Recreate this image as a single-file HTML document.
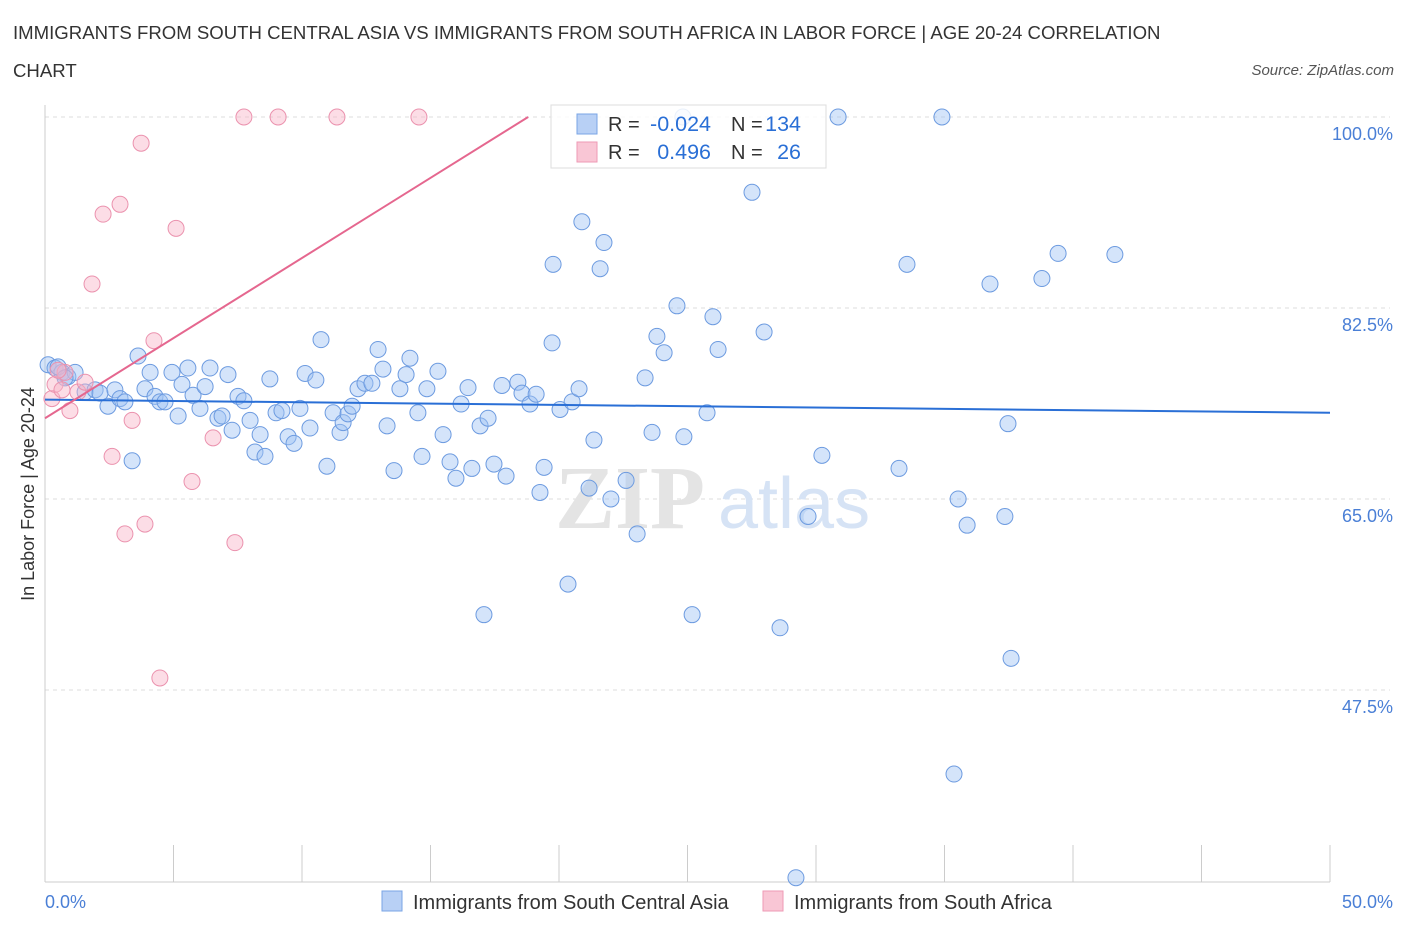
<!DOCTYPE html>
<html><head><meta charset="utf-8"><style>
body{margin:0;background:#fff;font-family:"Liberation Sans",sans-serif;}
#wrap{position:relative;width:1406px;height:930px;overflow:hidden;}
.t{position:absolute;color:#333;}
</style></head><body>
<div id="wrap">
<div class="t" style="left:13px;top:14px;font-size:18.6px;line-height:38px;width:1175px;color:#333">IMMIGRANTS FROM SOUTH CENTRAL ASIA VS IMMIGRANTS FROM SOUTH AFRICA IN LABOR FORCE | AGE 20-24 CORRELATION CHART</div>
<div class="t" style="right:12px;top:62px;font-size:15px;font-style:italic;color:#555">Source: ZipAtlas.com</div>
<svg id="svg" width="1406" height="930" style="position:absolute;left:0;top:0"></svg>
</div>
<script>
const blueX=[0.12,0.39,0.66,0.89,1.17,0.51,0.78,1.56,1.95,2.14,2.72,2.45,2.92,3.11,3.39,3.62,3.89,4.09,4.28,4.47,4.67,4.94,5.18,5.33,5.56,5.76,6.03,6.23,6.42,6.73,6.89,7.12,7.28,7.51,7.74,7.98,8.17,8.37,8.56,8.75,8.99,9.22,9.46,9.69,9.92,10.12,10.31,10.54,10.74,10.97,11.21,11.48,11.60,11.79,11.95,12.18,12.45,12.72,12.96,13.15,13.31,13.58,13.81,14.05,14.20,14.51,14.67,14.86,15.29,15.49,15.76,15.99,16.19,16.46,16.61,16.93,17.08,17.24,17.47,17.78,17.94,18.40,18.56,18.87,19.11,19.42,19.26,19.73,19.77,20.04,20.35,20.51,20.78,20.89,21.17,21.36,21.60,21.75,22.02,22.61,23.04,23.35,23.62,23.81,24.09,24.59,24.86,25.18,25.76,25.99,26.19,27.51,27.98,28.60,29.69,30.23,30.86,33.23,33.54,34.90,35.37,35.53,35.88,36.77,37.35,37.47,37.59,38.79,39.42,41.63,29.22,24.82];
const blueY=[77.3,77.0,76.6,76.2,76.6,77.1,76.1,74.8,75.0,74.7,75.0,73.5,74.2,73.9,68.5,78.1,75.1,76.6,74.4,73.9,73.9,76.6,72.6,75.5,77.0,74.5,73.3,75.3,77.0,72.4,72.6,76.4,71.3,74.4,74.0,72.2,69.3,70.9,68.9,76.0,72.9,73.1,70.7,70.1,73.3,76.5,71.5,75.9,79.6,68.0,72.9,71.1,72.0,72.8,73.5,75.1,75.6,75.6,78.7,76.9,71.7,67.6,75.1,76.4,77.9,72.9,68.9,75.1,76.7,70.9,68.4,66.9,73.7,75.2,67.8,71.7,54.4,72.4,68.2,75.4,67.1,75.7,74.7,73.7,74.6,67.9,65.6,79.3,86.5,73.2,57.2,73.9,75.1,90.4,66.0,70.4,86.1,88.5,65.0,66.7,61.8,76.1,71.1,79.9,78.4,82.7,70.7,54.4,72.9,81.7,78.7,93.1,80.3,53.2,63.4,69.0,100,67.8,86.5,100,39.8,65.0,62.6,84.7,63.4,71.9,50.4,85.2,87.5,87.4,30.3,100];
const pinkX=[0.27,0.39,0.66,0.97,1.28,1.56,2.26,2.61,2.92,3.11,3.39,3.74,3.89,4.24,4.47,5.10,5.72,6.54,7.39,7.74,9.07,11.36,14.55,1.83,0.78,0.51];
const pinkY=[74.2,75.5,75.0,73.1,74.8,75.7,91.1,68.9,92.0,61.8,72.2,97.6,62.7,79.5,48.6,89.8,66.6,70.6,61.0,100,100,100,100,84.7,76.6,76.8];
const blueTrend=[[0,74.1],[50,72.9]];
const pinkTrend=[[0,72.4],[18.8,100]];
const yTicks=[100,82.5,65,47.5];
const yTickLabels=["100.0%","82.5%","65.0%","47.5%"];
const xTicks=[0,5,10,15,20,25,30,35,40,45,50];

const X0=45,X1=1330,YTOP=117,PXY=10.914;
const sx=v=>X0+(X1-X0)*v/50;
const sy=v=>YTOP+(100-v)*PXY;
const svg=document.getElementById('svg');
const NS='http://www.w3.org/2000/svg';
function mk(tag,at,parent){const e=document.createElementNS(NS,tag);for(const k in at)e.setAttribute(k,at[k]);(parent||svg).appendChild(e);return e;}

yTicks.forEach((v,i)=>{
 const g=mk('line',{x1:X0,x2:1390,y1:sy(v),y2:sy(v),stroke:'#ddd','stroke-dasharray':'4,4'});
 
 
 const t=mk('text',{x:1393,y:sy(v)+23,'text-anchor':'end','font-size':18,fill:'#4a7fd6','font-family':'Liberation Sans'});
 t.textContent=yTickLabels[i];
 
 
});
const ax=mk('line',{x1:X0,x2:X1,y1:882,y2:882,stroke:'#ccc'});


const ay=mk('line',{x1:X0,x2:X0,y1:105,y2:882,stroke:'#ccc'});


xTicks.forEach(v=>{
 const l=mk('line',{x1:sx(v),x2:sx(v),y1:845,y2:882,stroke:'#ccc'});
 
 
});
const wm=mk('text',{x:555,y:528,'font-size':90,fill:'#e4e4e4','font-family':'Liberation Serif','font-weight':'bold'});
wm.textContent='ZIP';


const wm2=mk('text',{x:718,y:528,'font-size':72,fill:'#d6e3f5','font-family':'Liberation Sans'});
wm2.textContent='atlas';


blueX.forEach((x,i)=>{
 const c=mk('circle',{cx:sx(x),cy:sy(blueY[i]),r:8,fill:'rgba(160,195,245,0.45)',stroke:'#6d9be0','stroke-width':1});
 
 
});
pinkX.forEach((x,i)=>{
 const c=mk('circle',{cx:sx(x),cy:sy(pinkY[i]),r:8,fill:'rgba(248,180,200,0.45)',stroke:'#eb92ae','stroke-width':1});
 
 
});
const bt=mk('line',{x1:sx(blueTrend[0][0]),y1:sy(blueTrend[0][1]),x2:sx(blueTrend[1][0]),y2:sy(blueTrend[1][1]),stroke:'#2a6fd6','stroke-width':2});


const pt=mk('line',{x1:sx(pinkTrend[0][0]),y1:sy(pinkTrend[0][1]),x2:sx(pinkTrend[1][0]),y2:sy(pinkTrend[1][1]),stroke:'#e5678f','stroke-width':2});


const xl=mk('text',{x:45,y:908,'font-size':18,fill:'#4a7fd6','font-family':'Liberation Sans'});xl.textContent='0.0%';


const xr=mk('text',{x:1393,y:908,'text-anchor':'end','font-size':18,fill:'#4a7fd6','font-family':'Liberation Sans'});xr.textContent='50.0%';


const yt=mk('text',{x:34,y:494,'text-anchor':'middle','font-size':18,fill:'#333','font-family':'Liberation Sans',transform:'rotate(-90 34 494)'});yt.textContent='In Labor Force | Age 20-24';


const lg=mk('rect',{x:551,y:105,width:275,height:63,fill:'rgba(255,255,255,0.85)',stroke:'#ddd'});


[[0,'#b8d0f5','#7aa5e5','-0.024','134'],[1,'#f9c6d5','#ee9ab5','0.496','26']].forEach(r=>{
 const y=114+r[0]*28;
 const s=mk('rect',{x:577,y:y,width:20,height:20,fill:r[1],stroke:r[2]});
 
 
 const t1=mk('text',{x:608,y:y+17,'font-size':20,fill:'#333','font-family':'Liberation Sans'});t1.textContent='R =';
 
 
 const t2=mk('text',{x:711,y:y+17,'text-anchor':'end','font-size':21.5,fill:'#2a6fd6','font-family':'Liberation Sans'});t2.textContent=r[3];
 
 
 const t3=mk('text',{x:731,y:y+17,'font-size':20,fill:'#333','font-family':'Liberation Sans'});t3.textContent='N =';
 
 
 const t4=mk('text',{x:801,y:y+17,'text-anchor':'end','font-size':21.5,fill:'#2a6fd6','font-family':'Liberation Sans'});t4.textContent=r[4];
 
 
});
[[382,'#b8d0f5','#7aa5e5','Immigrants from South Central Asia'],[763,'#f9c6d5','#ee9ab5','Immigrants from South Africa']].forEach(r=>{
 const s=mk('rect',{x:r[0],y:891,width:20,height:20,fill:r[1],stroke:r[2]});
 
 
 const t=mk('text',{x:r[0]+31,y:909,'font-size':20,fill:'#333','font-family':'Liberation Sans'});t.textContent=r[3];
 
 
});
</script>
</body></html>
